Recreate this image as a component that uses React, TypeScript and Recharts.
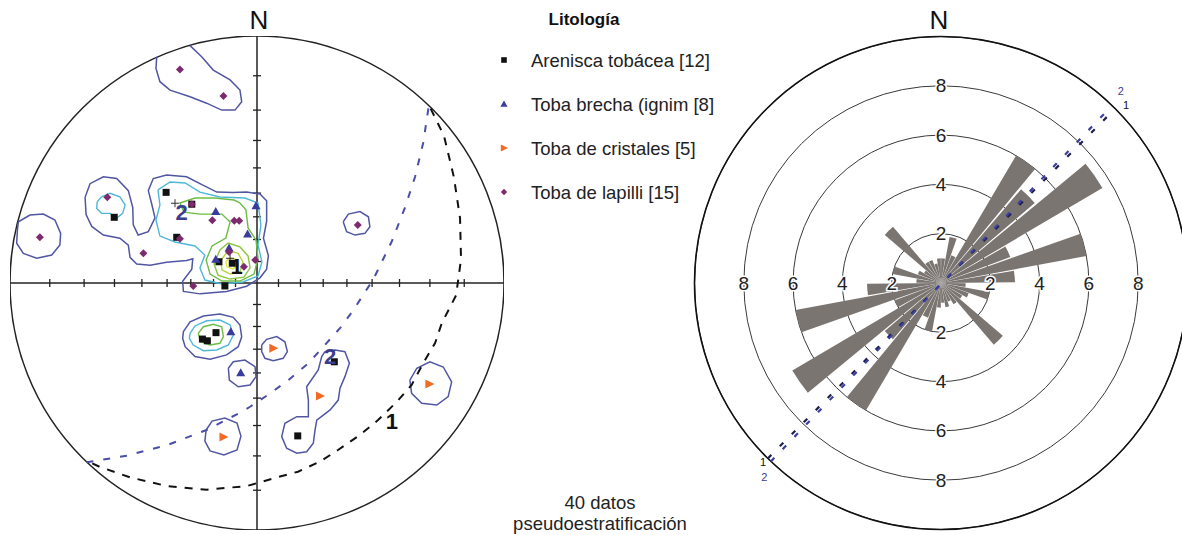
import React from 'react';
import {
    ScatterChart, Scatter, XAxis, YAxis, ReferenceLine, ReferenceDot,
    RadialBarChart, RadialBar, PolarGrid, PolarAngleAxis, PolarRadiusAxis,
} from 'recharts';

type P = [number, number];

// --- Stereonet (Wulff, lower hemisphere), unit-circle coords: x = east, y = north ---
const arenisca: P[] = [
    [-0.368, 0.367], [-0.264, 0.319], [-0.325, 0.185], [-0.154, 0.086], [-0.130, -0.012],
    [-0.578, 0.266], [-0.221, -0.227], [-0.201, -0.234], [-0.166, -0.201], [0.313, -0.319],
    [0.165, -0.619], [-0.100, 0.080],
];
const brecha: P[] = [
    [-0.167, 0.289], [-0.004, 0.313], [-0.038, 0.198], [-0.113, 0.142], [-0.167, 0.096],
    [-0.106, -0.197], [-0.066, -0.363],
];
const cristales: P[] = [[0.066, -0.264], [0.255, -0.457], [0.698, -0.409], [-0.136, -0.623]];
const lapilli: P[] = [
    [-0.181, 0.254], [-0.092, 0.252], [-0.072, 0.252], [-0.312, 0.179], [-0.113, 0.126],
    [-0.053, 0.066], [-0.007, 0.093], [-0.258, -0.012], [-0.606, 0.347], [-0.879, 0.185],
    [-0.460, 0.120], [-0.312, 0.864], [-0.136, 0.757], [0.408, 0.235], [-0.264, 0.319],
];

// 10 degree marks on the cross
const netTicks = [0.087, 0.176, 0.268, 0.364, 0.466, 0.577, 0.700, 0.839];

// density contours, lowest level first
const contourLevel1: P[][] = [
    [[-0.366, 0.437], [-0.285, 0.430], [-0.217, 0.395], [-0.163, 0.368], [-0.096, 0.366], [-0.042, 0.368],
     [0.012, 0.360], [0.039, 0.333], [0.039, 0.250], [0.026, 0.181], [0.046, 0.111], [0.039, 0.056],
     [0.012, 0.021], [-0.042, -0.013], [-0.123, -0.034], [-0.231, -0.044], [-0.298, -0.034], [-0.301, 0.007],
     [-0.264, 0.056], [-0.260, 0.098], [-0.285, 0.091], [-0.366, 0.084], [-0.433, 0.072], [-0.487, 0.077],
     [-0.514, 0.104], [-0.521, 0.153], [-0.555, 0.181], [-0.622, 0.194], [-0.669, 0.229], [-0.692, 0.277],
     [-0.696, 0.347], [-0.676, 0.402], [-0.622, 0.430], [-0.568, 0.423], [-0.521, 0.374], [-0.503, 0.305],
     [-0.501, 0.236], [-0.481, 0.194], [-0.440, 0.208], [-0.413, 0.264], [-0.426, 0.319], [-0.440, 0.374],
     [-0.420, 0.423]],
    [[-0.966, 0.248], [-0.919, 0.275], [-0.865, 0.279], [-0.818, 0.255], [-0.795, 0.201], [-0.798, 0.154],
     [-0.831, 0.113], [-0.892, 0.100], [-0.946, 0.120], [-0.973, 0.161], [-0.970, 0.215]],
    [[-0.298, -0.197], [-0.271, -0.157], [-0.217, -0.134], [-0.150, -0.126], [-0.096, -0.139], [-0.069, -0.170],
     [-0.062, -0.218], [-0.076, -0.258], [-0.123, -0.291], [-0.190, -0.309], [-0.251, -0.298], [-0.291, -0.258],
     [-0.301, -0.224]],
    [[-0.116, -0.345], [-0.096, -0.319], [-0.049, -0.312], [-0.008, -0.339], [-0.004, -0.379], [-0.028, -0.413],
     [-0.076, -0.420], [-0.112, -0.393]],
    [[0.019, -0.251], [0.039, -0.228], [0.080, -0.217], [0.113, -0.238], [0.123, -0.278], [0.106, -0.305],
     [0.066, -0.315], [0.032, -0.305], [0.019, -0.278]],
    [[0.275, -0.278], [0.316, -0.271], [0.356, -0.278], [0.374, -0.325], [0.356, -0.379], [0.336, -0.426],
     [0.329, -0.474], [0.296, -0.514], [0.242, -0.555], [0.235, -0.595], [0.228, -0.649], [0.201, -0.683],
     [0.161, -0.689], [0.120, -0.669], [0.100, -0.622], [0.113, -0.568], [0.161, -0.541], [0.208, -0.541],
     [0.208, -0.474], [0.201, -0.420], [0.248, -0.352], [0.262, -0.298]],
    [[0.619, -0.393], [0.647, -0.345], [0.700, -0.319], [0.754, -0.340], [0.788, -0.400], [0.774, -0.460],
     [0.728, -0.494], [0.667, -0.487], [0.626, -0.447]],
    [[-0.206, -0.595], [-0.182, -0.559], [-0.130, -0.547], [-0.081, -0.567], [-0.065, -0.620], [-0.081, -0.676],
     [-0.134, -0.696], [-0.190, -0.680], [-0.211, -0.640]],
    [[0.349, 0.248], [0.370, 0.279], [0.417, 0.289], [0.451, 0.268], [0.457, 0.228], [0.437, 0.201],
     [0.397, 0.194], [0.363, 0.208]],
];
// the one that runs into the primitive circle (open)
const contourLevel1Open: P[] = [
    [-0.406, 0.916], [-0.409, 0.869], [-0.393, 0.815], [-0.352, 0.781], [-0.271, 0.754], [-0.204, 0.728],
    [-0.143, 0.700], [-0.089, 0.700], [-0.062, 0.734], [-0.069, 0.781], [-0.109, 0.822], [-0.177, 0.862],
    [-0.224, 0.916], [-0.271, 0.961],
];
const contourLevel2: P[][] = [
    [[-0.401, 0.377], [-0.352, 0.409], [-0.291, 0.405], [-0.231, 0.368], [-0.150, 0.348], [-0.049, 0.344],
     [0.004, 0.324], [0.016, 0.235], [0.004, 0.154], [0.020, 0.085], [0.004, 0.028], [-0.057, 0.004],
     [-0.142, -0.004], [-0.211, 0.012], [-0.231, 0.061], [-0.211, 0.113], [-0.251, 0.150], [-0.332, 0.166],
     [-0.393, 0.190], [-0.409, 0.255], [-0.393, 0.316]],
    [[-0.647, 0.329], [-0.629, 0.349], [-0.595, 0.363], [-0.555, 0.349], [-0.534, 0.316], [-0.544, 0.282],
     [-0.568, 0.263], [-0.595, 0.282], [-0.629, 0.282], [-0.649, 0.302]],
    [[-0.271, -0.204], [-0.251, -0.174], [-0.204, -0.153], [-0.150, -0.150], [-0.109, -0.170], [-0.096, -0.211],
     [-0.116, -0.251], [-0.163, -0.271], [-0.217, -0.274], [-0.258, -0.251], [-0.274, -0.224]],
];
const contourLevel3: P[][] = [
    [[-0.069, 0.324], [-0.045, 0.296], [-0.036, 0.223], [-0.004, 0.174], [0.004, 0.101], [-0.012, 0.036],
     [-0.069, 0.008], [-0.142, 0.008], [-0.190, 0.036], [-0.206, 0.093], [-0.182, 0.150], [-0.126, 0.182],
     [-0.109, 0.247], [-0.142, 0.279], [-0.231, 0.279], [-0.296, 0.287], [-0.312, 0.324], [-0.251, 0.344],
     [-0.170, 0.344], [-0.093, 0.336]],
    [[-0.238, -0.204], [-0.217, -0.177], [-0.177, -0.167], [-0.143, -0.177], [-0.136, -0.217], [-0.150, -0.244],
     [-0.190, -0.251], [-0.228, -0.238]],
];
const contourLevel4: P[][] = [
    [[-0.117, 0.162], [-0.069, 0.146], [-0.036, 0.109], [-0.028, 0.061], [-0.053, 0.024], [-0.109, 0.016],
     [-0.158, 0.032], [-0.174, 0.077], [-0.150, 0.134]],
];
const contourLevel5: P[][] = [
    [[-0.117, 0.130], [-0.077, 0.121], [-0.057, 0.085], [-0.069, 0.045], [-0.109, 0.036], [-0.142, 0.053],
     [-0.146, 0.093]],
];
const contourLevel6: P[][] = [
    [[-0.113, 0.101], [-0.085, 0.097], [-0.077, 0.073], [-0.097, 0.057], [-0.121, 0.065], [-0.126, 0.085]],
];

// great circles of the two mean planes
const plane1: P[] = [
    [0.703, 0.706], [0.757, 0.596], [0.797, 0.429], [0.822, 0.263], [0.826, 0.097], [0.806, -0.050],
    [0.748, -0.163], [0.721, -0.243], [0.673, -0.324], [0.626, -0.413], [0.566, -0.481], [0.490, -0.555],
    [0.417, -0.615], [0.328, -0.676], [0.255, -0.723], [0.166, -0.764], [0.073, -0.789], [-0.041, -0.822],
    [-0.203, -0.837], [-0.365, -0.822], [-0.514, -0.787], [-0.635, -0.745], [-0.689, -0.720],
];
const plane2: P[] = [
    [0.694, 0.707], [0.673, 0.568], [0.640, 0.430], [0.599, 0.305], [0.545, 0.167], [0.471, 0.015],
    [0.390, -0.110], [0.336, -0.183], [0.208, -0.325], [0.127, -0.393], [0.053, -0.447], [-0.028, -0.501],
    [-0.069, -0.525], [-0.204, -0.595], [-0.366, -0.657], [-0.528, -0.699], [-0.690, -0.726],
];
const poles: P[] = [[-0.332, 0.323], [-0.109, 0.100]];
const netLabels = [
    { text: '2', x: -0.305, y: 0.285 },
    { text: '1', x: -0.082, y: 0.068 },
    { text: '2', x: 0.296, y: -0.298 },
    { text: '1', x: 0.546, y: -0.561 },
];

// --- Rose diagram: 10 degree bins, clockwise from north ---
const roseBins = ['0', '10', '20', '30', '40', '50', '60', '70', '80', '90', '100', '110', '120', '130', '140', '150',
    '160', '170', '180', '190', '200', '210', '220', '230', '240', '250', '260', '270', '280', '290', '300', '310',
    '320', '330', '340', '350'];
const roseValues = [1.0, 1.9, 1.2, 6.0, 5.0, 7.6, 3.0, 6.0, 3.0, 1.0, 2.0, 1.2, 1.0, 3.3, 1.0, 0.8, 1.0, 0.8,
    1.0, 2.0, 1.5, 6.0, 3.0, 7.0, 2.0, 6.0, 3.0, 1.0, 2.0, 1.0, 0.8, 3.0, 1.0, 1.0, 0.8, 1.0];
const strikes = [
    { label: '1', azimuth: 44.8 },
    { label: '2', azimuth: 43.8 },
];

const legendItems = ['Arenisca tobácea [12]', 'Toba brecha (ignim [8]', 'Toba de cristales [5]', 'Toba de lapilli [15]'];

const BLUE_C = '#5156a3';
const LEVEL_COLORS = ['#4fb8d8', '#6cbd45', '#8cc63f', '#b5d334', '#e0e43a'];

const pts = (arr: P[]) => arr.map(([x, y]) => ({ x, y }));
const ring = (arr: P[]) => pts([...arr, arr[0]]);
const Empty = () => <g />;

const SquareMark = ({ cx, cy }: any) => <rect x={cx - 3.5} y={cy - 3.5} width={7} height={7} fill="#111" />;
const TriMark = ({ cx, cy }: any) => <path d={`M${cx},${cy - 4.5}L${cx + 4.5},${cy + 3.5}L${cx - 4.5},${cy + 3.5}Z`} fill="#393c9a" />;
const RightTriMark = ({ cx, cy }: any) => <path d={`M${cx - 4},${cy - 4.5}L${cx + 5},${cy}L${cx - 4},${cy + 4.5}Z`} fill="#f26a24" />;
const DiamondMark = ({ cx, cy }: any) => <path d={`M${cx},${cy - 4}L${cx + 4},${cy}L${cx},${cy + 4}L${cx - 4},${cy}Z`} fill="#7d2a6e" />;
const VTick = ({ cx, cy }: any) => <line x1={cx} x2={cx} y1={cy - 4} y2={cy + 4} stroke="#222" strokeWidth={1.3} />;
const HTick = ({ cx, cy }: any) => <line x1={cx - 4} x2={cx + 4} y1={cy} y2={cy} stroke="#222" strokeWidth={1.3} />;
const Cross = ({ cx, cy }: any) => (
    <g stroke="#333" strokeWidth={1}>
        <line x1={cx - 4} x2={cx + 4} y1={cy} y2={cy} />
        <line x1={cx} x2={cx} y1={cy - 4} y2={cy + 4} />
    </g>
);
const NetLabel = ({ cx, cy, payload }: any) => (
    <text x={cx} y={cy} textAnchor="middle" dominantBaseline="central" fontSize={22} fontWeight="bold"
        fill={payload.text === '2' ? '#3b3d8e' : '#111'}>{payload.text}</text>
);

const RingLabel = (props: any) => {
    const { x, y, payload } = props;
    const v = payload.value;
    if (v === 0 || v === 10) return <g />;
    const r = payload.coordinate;
    const cx = x, cy = y + r;
    const spots = [[cx, cy - r], [cx, cy + r], [cx - r, cy], [cx + r, cy]];
    return (
        <g>
            {spots.map(([tx, ty], i) => (
                <text key={i} x={tx} y={ty} textAnchor="middle" dominantBaseline="central" fontSize={19}
                    fill="#222" stroke="#fff" strokeWidth={3} paintOrder="stroke">{v}</text>
            ))}
        </g>
    );
};

const StrikeEnd = ({ cx, cy, payload }: any) => {
    const a = (payload.azimuth * Math.PI) / 180;
    const s = payload.end === 'ne' ? 1 : -1;
    const two = payload.label === '2';
    const dy = s > 0 ? (two ? -7 : 4) : (two ? 8 : -4);
    return (
        <text x={cx + s * Math.sin(a) * 11 + (two ? 1 : 3)} y={cy - s * Math.cos(a) * 11 + dy}
            textAnchor="middle" dominantBaseline="central" fontSize={11}
            fill={two ? '#3b3d8e' : '#111'}>{payload.label}</text>
    );
};

export default function App() {
    const roseData = roseBins.map((bin, i) => ({ bin, count: roseValues[i] }));
    const strikeLines = strikes.map(s => {
        const a = (s.azimuth * Math.PI) / 180;
        return [
            { x: -10 * Math.sin(a), y: -10 * Math.cos(a), label: s.label, azimuth: s.azimuth, end: 'sw' },
            { x: 10 * Math.sin(a), y: 10 * Math.cos(a), label: s.label, azimuth: s.azimuth, end: 'ne' },
        ];
    });
    const hTicks = netTicks.flatMap(t => [{ x: t, y: 0 }, { x: -t, y: 0 }]);
    const vTicks = netTicks.flatMap(t => [{ x: 0, y: t }, { x: 0, y: -t }]);
    const levels = [contourLevel2, contourLevel3, contourLevel4, contourLevel5, contourLevel6];

    return (
        <div style={{ position: 'absolute', left: 0, top: 0, width: 1182, height: 535, background: '#fff', fontFamily: '"Liberation Sans", Arial, sans-serif', overflow: 'hidden' }}>
            <svg width={1182} height={535} style={{ position: 'absolute', left: 0, top: 0 }}>
                <text x={259} y={29} textAnchor="middle" fontSize={26} fill="#111">N</text>
                <text x={939} y={29} textAnchor="middle" fontSize={26} fill="#111">N</text>
                <text x={584} y={25} textAnchor="middle" fontSize={17} fontWeight="bold" fill="#111">Litología</text>
                {legendItems.map((t, i) => {
                    const cy = 60 + i * 44;
                    const cx = 504;
                    const mark = i === 0 ? <SquareMark cx={cx} cy={cy} /> : i === 1 ? <TriMark cx={cx} cy={cy} />
                        : i === 2 ? <RightTriMark cx={cx} cy={cy} /> : <DiamondMark cx={cx} cy={cy} />;
                    return (
                        <g key={t}>
                            <g transform={`translate(${cx},${cy}) scale(0.8) translate(${-cx},${-cy})`}>{mark}</g>
                            <text x={531} y={cy + 6.5} fontSize={18.5} fill="#222">{t}</text>
                        </g>
                    );
                })}
                <text x={600} y={509} textAnchor="middle" fontSize={18.5} fill="#222">40 datos</text>
                <text x={600} y={530} textAnchor="middle" fontSize={18.5} fill="#222">pseudoestratificación</text>
            </svg>

            {/* stereonet */}
            <div style={{ position: 'absolute', left: 10, top: 36 }}>
                <ScatterChart width={494} height={494} margin={{ top: 0, right: 0, bottom: 0, left: 0 }}>
                    <XAxis type="number" dataKey="x" domain={[-1, 1]} hide />
                    <YAxis type="number" dataKey="y" domain={[-1, 1]} hide />
                    <ReferenceDot x={0} y={0} r={247} fill="none" stroke="#222" strokeWidth={1.5} />
                    <ReferenceLine x={0} stroke="#222" strokeWidth={1.5} />
                    <ReferenceLine y={0} stroke="#222" strokeWidth={1.5} />
                    <Scatter data={hTicks} shape={VTick} isAnimationActive={false} legendType="none" />
                    <Scatter data={vTicks} shape={HTick} isAnimationActive={false} legendType="none" />
                    {contourLevel1.map((c, i) => (
                        <Scatter key={`l1-${i}`} data={ring(c)} line={{ stroke: BLUE_C, strokeWidth: 1.5 }} lineType="joint" shape={Empty} isAnimationActive={false} legendType="none" />
                    ))}
                    <Scatter data={pts(contourLevel1Open)} line={{ stroke: BLUE_C, strokeWidth: 1.5 }} lineType="joint" shape={Empty} isAnimationActive={false} legendType="none" />
                    {levels.map((lv, li) => lv.map((c, i) => (
                        <Scatter key={`lv${li}-${i}`} data={ring(c)} line={{ stroke: LEVEL_COLORS[li], strokeWidth: 1.4 }} lineType="joint" shape={Empty} isAnimationActive={false} legendType="none" />
                    )))}
                    <Scatter data={pts(plane1)} line={{ stroke: '#111', strokeWidth: 2, strokeDasharray: '8 8' }} lineType="joint" shape={Empty} isAnimationActive={false} legendType="none" />
                    <Scatter data={pts(plane2)} line={{ stroke: '#4a4ea6', strokeWidth: 2, strokeDasharray: '7 10' }} lineType="joint" shape={Empty} isAnimationActive={false} legendType="none" />
                    <Scatter data={pts(poles)} shape={Cross} isAnimationActive={false} legendType="none" />
                    <Scatter name="Arenisca tobácea" data={pts(arenisca)} shape={SquareMark} isAnimationActive={false} />
                    <Scatter name="Toba brecha" data={pts(brecha)} shape={TriMark} isAnimationActive={false} />
                    <Scatter name="Toba de cristales" data={pts(cristales)} shape={RightTriMark} isAnimationActive={false} />
                    <Scatter name="Toba de lapilli" data={pts(lapilli)} shape={DiamondMark} isAnimationActive={false} />
                    <Scatter data={netLabels} shape={NetLabel} isAnimationActive={false} legendType="none" />
                </ScatterChart>
            </div>

            {/* rose diagram */}
            <div style={{ position: 'absolute', left: 691, top: 33 }}>
                <RadialBarChart width={500} height={500} cx={250} cy={250} innerRadius={0} outerRadius={246.5}
                    startAngle={80} endAngle={-280} data={roseData} layout="centric" barCategoryGap="5%"
                    margin={{ top: 0, right: 0, bottom: 0, left: 0 }}>
                    <PolarGrid gridType="circle" radialLines={false} stroke="#3a3a3a" strokeWidth={1} />
                    <PolarAngleAxis type="category" dataKey="bin" tick={false} tickLine={false}
                        axisLine={{ stroke: '#111', strokeWidth: 1.6 }} axisLineType="circle" />
                    <PolarRadiusAxis type="number" domain={[0, 10]} tickCount={6} angle={90}
                        axisLine={false} tickLine={false} tick={RingLabel} />
                    <RadialBar dataKey="count" fill="#7b7571" isAnimationActive={false} />
                </RadialBarChart>
            </div>
            <div style={{ position: 'absolute', left: 694.5, top: 36.5 }}>
                <ScatterChart width={493} height={493} margin={{ top: 0, right: 0, bottom: 0, left: 0 }}>
                    <XAxis type="number" dataKey="x" domain={[-10, 10]} hide />
                    <YAxis type="number" dataKey="y" domain={[-10, 10]} hide />
                    {strikeLines.map((ln, i) => (
                        <Scatter key={i} data={ln} line={{ stroke: i === 0 ? '#1e1f4d' : '#3b3fa0', strokeWidth: 2.2, strokeDasharray: '5 12' }}
                            lineType="joint" shape={StrikeEnd} isAnimationActive={false} legendType="none" />
                    ))}
                </ScatterChart>
            </div>
        </div>
    );
}
